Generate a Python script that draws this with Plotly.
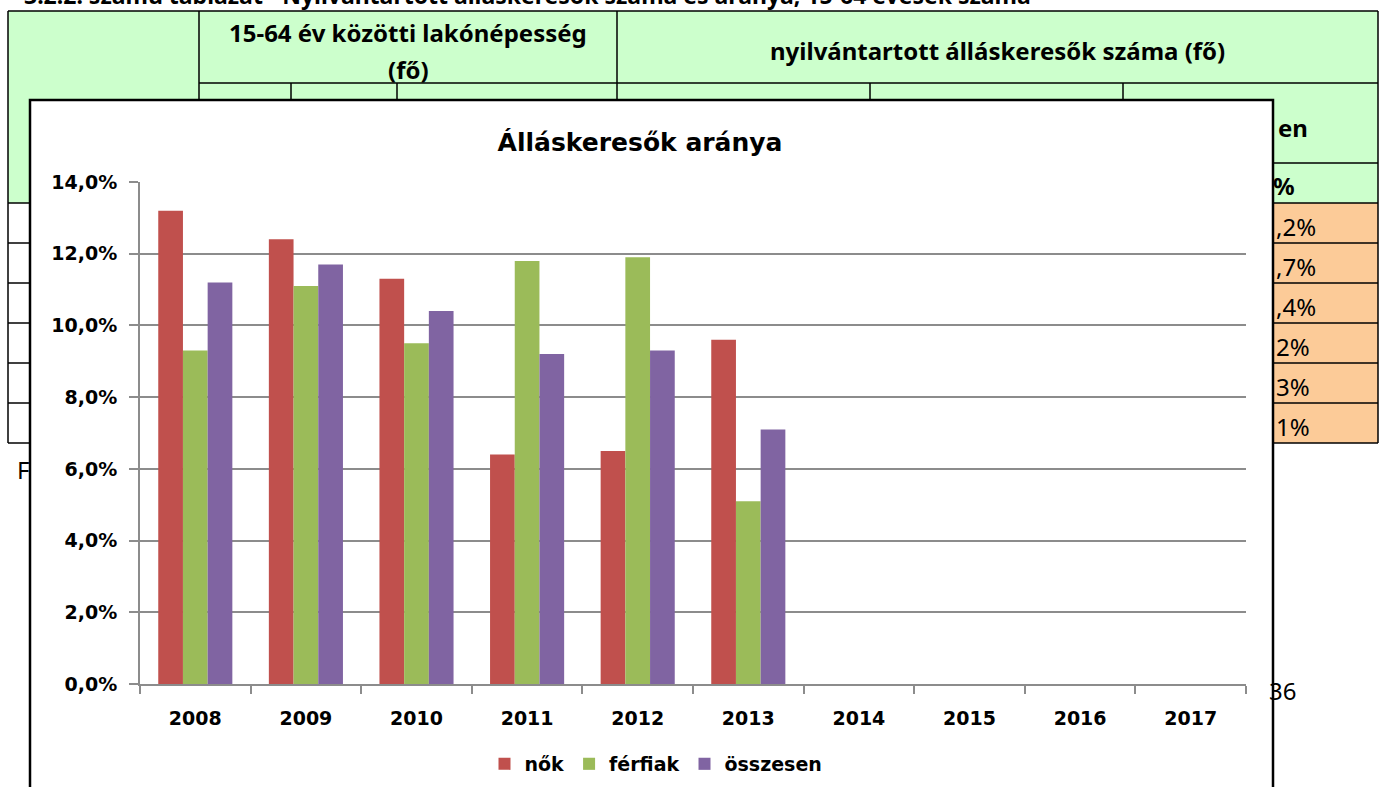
import plotly.graph_objects as go

# ---- data ----
years = ["2008", "2009", "2010", "2011", "2012", "2013", "2014", "2015", "2016", "2017"]
nok = [0.132, 0.124, 0.113, 0.064, 0.065, 0.096, None, None, None, None]
ferfiak = [0.093, 0.111, 0.095, 0.118, 0.119, 0.051, None, None, None, None]
osszesen = [0.112, 0.117, 0.104, 0.092, 0.093, 0.071, None, None, None, None]
series_names = ["nők", "férfiak", "összesen"]
series_colors = ["#C0504D", "#9BBB59", "#8064A2"]
y_ticks = [0, 0.02, 0.04, 0.06, 0.08, 0.10, 0.12, 0.14]

title_text = "Álláskeresők aránya"
caption_text = "3.2.2. számú táblázat - Nyilvántartott álláskeresők száma és aránya, 15-64 évesek száma"
head1 = ["15-64 év közötti lakónépesség", "(fő)"]
head2 = "nyilvántartott álláskeresők száma (fő)"
right_cells = [",2%", ",7%", ",4%", "2%", "3%", "1%"]

W, H = 1380, 787
def px(x):
    return x / W
def py(y):
    return 1 - y / H

fig = go.Figure()
for name, vals, col in zip(series_names, [nok, ferfiak, osszesen], series_colors):
    fig.add_trace(go.Bar(x=years, y=vals, name=name, marker_color=col,
                         marker_line_width=0))

GREEN = "#CCFFCC"
ORANGE = "#FCCB98"
shapes = []
def rect(x0, y0, x1, y1, fill, lw=0, lc="black", layer="below"):
    shapes.append(dict(type="rect", xref="paper", yref="paper", x0=px(x0), x1=px(x1),
                       y0=py(y1), y1=py(y0), fillcolor=fill,
                       line=dict(width=lw, color=lc), layer=layer))
def line(x0, y0, x1, y1, lw=1.5, layer="below"):
    shapes.append(dict(type="line", xref="paper", yref="paper", x0=px(x0), x1=px(x1),
                       y0=py(y0), y1=py(y1), line=dict(width=lw, color="black"), layer=layer))

# background table
rect(8, 11, 1378, 203, GREEN)
rect(8, 203, 1378, 443, "white")
rect(1123, 203, 1378, 443, ORANGE)
for yy in [11, 203, 243, 283, 323, 363, 403, 443]:
    line(8, yy, 1378, yy)
for yy in [83, 163]:
    line(199, yy, 1378, yy)
for xx in [8, 199, 617, 1378]:
    line(xx, 11, xx, 443)
for xx in [291, 397, 870, 1123]:
    line(xx, 83, xx, 443)

# chart box
rect(30, 100, 1273, 800, "white", lw=2.5, lc="black")

annotations = []
def txt(x, y, s, size=24, bold=False, xanchor="center", font="Noto Sans"):
    annotations.append(dict(x=px(x), y=py(y), xref="paper", yref="paper", text=s,
                            showarrow=False, xanchor=xanchor, yanchor="middle",
                            font=dict(family=font, size=size, color="black",
                                      weight="bold" if bold else "normal")))

txt(22, -5, caption_text, size=23, bold=True, xanchor="left")
txt(408, 32, head1[0], bold=True)
txt(408, 69, head1[1], bold=True)
txt(997, 50, head2, bold=True)
txt(1276, 127, "en", bold=True, xanchor="left")
txt(1271, 185, "%", bold=True, xanchor="left")
for i, s in enumerate(right_cells):
    txt(1274, 226 + 40 * i, s, xanchor="left")
txt(15, 470, "F", xanchor="left")
txt(1298, 690, "36", xanchor="right")

fig.update_layout(
    width=W, height=H,
    margin=dict(l=0, r=0, t=0, b=0, autoexpand=False),
    paper_bgcolor="white",
    plot_bgcolor="rgba(0,0,0,0)",
    separators=",.",
    barmode="group",
    bargap=0.33,
    bargroupgap=0,
    shapes=shapes,
    annotations=annotations,
    title=dict(text=title_text, x=px(640), y=py(142), xanchor="center", yanchor="middle",
               font=dict(family="DejaVu Sans", size=25, color="black", weight="bold")),
    legend=dict(orientation="h", x=px(656), y=py(764), xanchor="center", yanchor="middle",
                font=dict(family="DejaVu Sans", size=19, color="black", weight="bold"),
                bgcolor="rgba(0,0,0,0)", itemwidth=30),
    xaxis=dict(domain=[px(140), px(1246)], type="category", automargin=False,
               showline=True, linecolor="#8C8C8C", linewidth=2,
               ticks="outside", tickson="boundaries", ticklen=8, tickcolor="#8C8C8C", tickwidth=2,
               showgrid=False,
               tickfont=dict(family="DejaVu Sans", size=19, color="black", weight="bold"),
               ticklabelstandoff=16),
    yaxis=dict(domain=[py(684), py(182)], range=[0, 0.14], tickvals=y_ticks, automargin=False,
               tickformat=".1%", showline=True, linecolor="#8C8C8C", linewidth=2,
               ticks="outside", ticklen=9, tickcolor="#8C8C8C", tickwidth=2,
               showgrid=True, gridcolor="#8C8C8C", gridwidth=2, zeroline=False,
               tickfont=dict(family="DejaVu Sans", size=19, color="black", weight="bold"),
               ticklabelstandoff=8),
)

fig.write_html("out.html", config={"displayModeBar": False},
               post_script="document.body.style.margin='0';document.body.style.overflow='hidden';")
